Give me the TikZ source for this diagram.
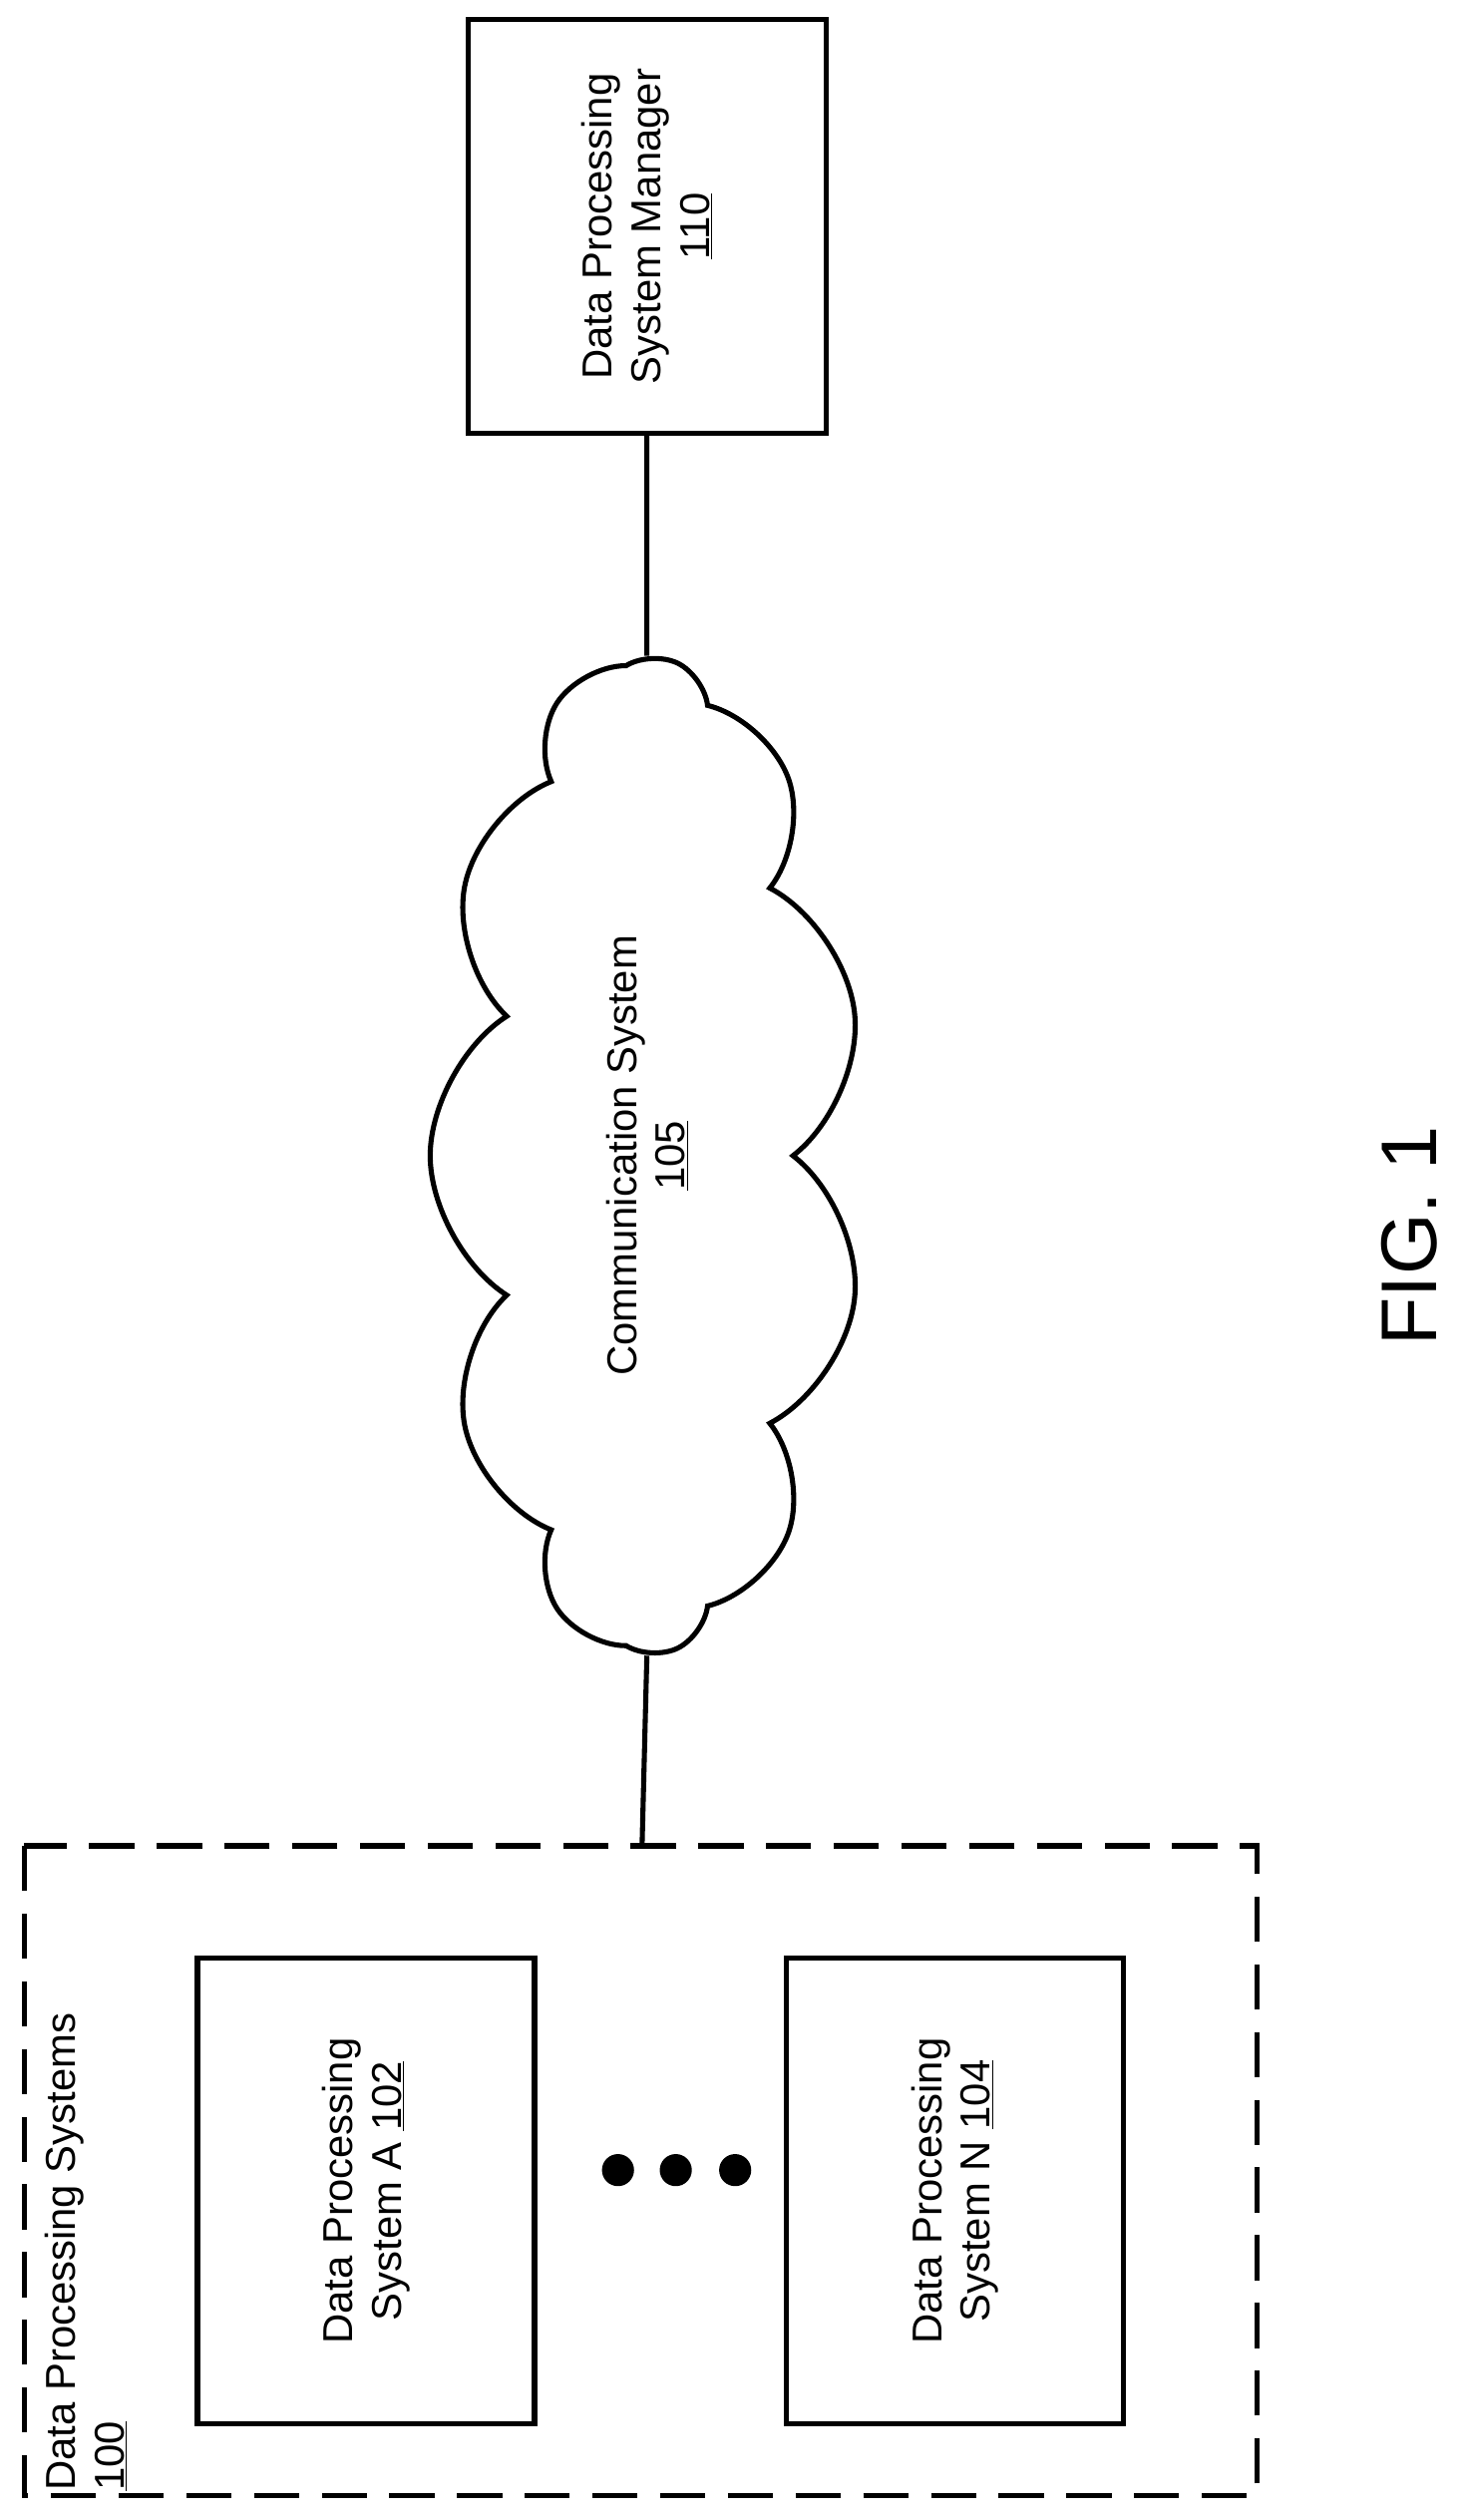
\documentclass[tikz,border=0pt]{standalone}
\usepackage{fontspec}
\setmainfont{Liberation Sans}
\usetikzlibrary{shapes.symbols}
\tikzset{
  sysbox/.style={draw, line width=4.5pt, rotate=90, align=center, inner sep=0pt},
  grouptext/.style={rotate=90, align=left, anchor=north west, inner sep=0pt},
  dot/.style={circle, fill, minimum size=1cm, inner sep=0pt},
}
\begin{document}
\begin{tikzpicture}[x=0.05cm, y=-0.05cm, font=\fontsize{37}{43}\selectfont]
\useasboundingbox (0,0) rectangle (909,1570);
% manager
\node[sysbox, minimum width=258*0.05cm, minimum height=223*0.05cm] (mgr) at (403,141)
  {Data Processing\\System Manager\\\underline{110}};
% cloud
\node[cloud, draw, line width=4.5pt, cloud puffs=11, cloud puff arc=115, aspect=2.25, rotate=90,
  minimum width=620*0.05cm, minimum height=270*0.05cm, align=center, inner sep=0pt] (comm) at (403,720)
  {Communication System\\\underline{105}};
% group of systems
\draw[line width=4.5pt, dash pattern=on 40pt off 20pt] (15,1150) rectangle (783,1555);
\coordinate (grp) at (400,1150);
\node[grouptext] (grplabel) at (28,1552) {Data Processing Systems\\\underline{100}};
\node[sysbox, minimum width=290*0.05cm, minimum height=210*0.05cm] (sysa) at (228,1365)
  {Data Processing\\System A \underline{102}};
\node[sysbox, minimum width=290*0.05cm, minimum height=210*0.05cm] (sysn) at (595,1365)
  {Data Processing\\System N \underline{104}};
\foreach \x in {385,421,458}
  \node[dot] at (\x,1352) {};
% connectors
\draw[line width=4.5pt] (mgr.west) -- (comm.east);
\draw[line width=4.5pt] (comm.west) -- (grp);
\node[rotate=90, font=\fontsize{70}{74}\selectfont] (fig) at (878,770) {FIG. 1};
\end{tikzpicture}
\end{document}
